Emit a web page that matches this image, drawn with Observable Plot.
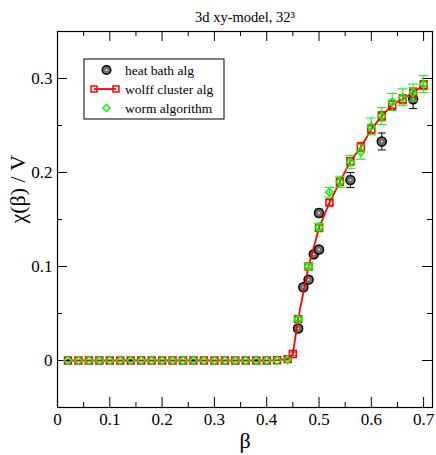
<!DOCTYPE html>
<html><head><meta charset="utf-8">
<script src="https://cdn.jsdelivr.net/npm/d3@7"></script>
<script src="https://cdn.jsdelivr.net/npm/@observablehq/plot@0.6"></script>
<style>body{margin:0;background:#fff} svg{display:block}</style>
</head><body><div id="chart"></div>
<script>
// ---- data ----
const titleText = "3d xy-model, 32\u00B3";
const xLabel = "\u03B2";
const yLabel = "\u03C7(\u03B2) / V";
const seriesNames = ["heat bath alg", "wolff cluster alg", "worm algorithm"];

const xTicks = [0, 0.1, 0.2, 0.3, 0.4, 0.5, 0.6, 0.7];
const xTickLabels = ["0", "0.1", "0.2", "0.3", "0.4", "0.5", "0.6", "0.7"];
const xMinorTicks = [0.05, 0.15, 0.25, 0.35, 0.45, 0.55, 0.65];
const yTicks = [0, 0.1, 0.2, 0.3];
const yTickLabels = ["0", "0.1", "0.2", "0.3"];
const yMinorTicks = [0.05, 0.15, 0.25];

// heat bath
const betaH = [0.46, 0.47, 0.48, 0.49, 0.50, 0.50, 0.56, 0.62, 0.68];
const chiH  = [0.034, 0.078, 0.086, 0.113, 0.118, 0.157, 0.192, 0.233, 0.278];
const errH  = [0.003, 0.003, 0.003, 0.003, 0.003, 0.004, 0.008, 0.009, 0.010];
// heat bath points hidden under the other symbols on the plateau (only their centre shows)
const betaH0 = [0.02, 0.14, 0.26, 0.38];
const chiH0  = [0, 0, 0, 0];

// wolff cluster
const betaW = [0.02, 0.04, 0.06, 0.08, 0.10, 0.12, 0.14, 0.16, 0.18, 0.20, 0.22, 0.24, 0.26, 0.28, 0.30,
  0.32, 0.34, 0.36, 0.38, 0.40, 0.42, 0.44, 0.45, 0.46, 0.48, 0.50, 0.52, 0.54, 0.56, 0.58, 0.60,
  0.62, 0.64, 0.66, 0.68, 0.70];
const chiW = [0, 0, 0, 0, 0, 0, 0, 0, 0, 0, 0, 0, 0, 0, 0,
  0, 0, 0, 0, 0, 0.0003, 0.0015, 0.007, 0.044, 0.100, 0.141, 0.168, 0.190, 0.212, 0.227, 0.246,
  0.260, 0.272, 0.278, 0.285, 0.293];
const errW = [0, 0, 0, 0, 0, 0, 0, 0, 0, 0, 0, 0, 0, 0, 0,
  0, 0, 0, 0, 0, 0, 0.001, 0.002, 0.002, 0.003, 0.003, 0.003, 0.004, 0.004, 0.005, 0.005,
  0.005, 0.005, 0.005, 0.005, 0.005];

// worm
const betaM = [0.02, 0.04, 0.06, 0.08, 0.10, 0.12, 0.14, 0.16, 0.18, 0.20, 0.22, 0.24, 0.26, 0.28, 0.30,
  0.32, 0.34, 0.36, 0.38, 0.40, 0.42, 0.44, 0.46, 0.48, 0.50, 0.52, 0.54, 0.56, 0.58, 0.60,
  0.62, 0.64, 0.66, 0.68, 0.70];
const chiM = [0, 0, 0, 0, 0, 0, 0, 0, 0, 0, 0, 0, 0, 0, 0,
  0, 0, 0, 0, 0, 0, 0.001, 0.044, 0.100, 0.142, 0.179, 0.190, 0.211, 0.222, 0.249,
  0.260, 0.275, 0.280, 0.285, 0.294];
const errM = [0, 0, 0, 0, 0, 0, 0, 0, 0, 0, 0, 0, 0, 0, 0,
  0, 0, 0, 0, 0, 0, 0, 0.002, 0.003, 0.004, 0.005, 0.006, 0.007, 0.008, 0.009,
  0.009, 0.009, 0.009, 0.009, 0.009];

const toRows = (bs, cs, es) => bs.map((b, i) => ({b, c: cs[i], e: es ? es[i] : 0}));
const heat = toRows(betaH, chiH, errH);
const heat0 = toRows(betaH0, chiH0);
const wolff = toRows(betaW, chiW, errW);
const worm = toRows(betaM, chiM, errM);

// ---- style ----
const W = 436, H = 455;
const mL = 57, mR = 4, mT = 31, mB = 48;
const innerW = W - mL - mR, innerH = H - mT - mB;
const font = "Liberation Serif, Times New Roman, serif";
const GREEN = "#00ff00", RED = "#ff0000";
const capSymbol = (hw) => ({draw(ctx) { ctx.moveTo(-hw, 0); ctx.lineTo(hw, 0); }});

const errMarks = (rows, color, hw) => {
  const r = rows.filter(d => d.e > 0);
  return [
    Plot.ruleX(r, {x: "b", y1: d => d.c - d.e, y2: d => d.c + d.e, stroke: color, strokeWidth: 1}),
    Plot.dot(r, {x: "b", y: d => d.c - d.e, symbol: capSymbol(hw), stroke: color, fill: "none", r: 3, strokeWidth: 1}),
    Plot.dot(r, {x: "b", y: d => d.c + d.e, symbol: capSymbol(hw), stroke: color, fill: "none", r: 3, strokeWidth: 1})
  ];
};

const chart = Plot.plot({
  width: W, height: H,
  marginLeft: mL, marginRight: mR, marginTop: mT, marginBottom: mB,
  style: {fontFamily: font, fontSize: "17px", background: "#fff", color: "#000"},
  x: {domain: [0, 0.717]},
  y: {domain: [-0.05, 0.35]},
  marks: [
    Plot.axisX({ticks: xTicks, tickFormat: (d, i) => xTickLabels[i], tickSize: 0, tickPadding: 5, label: null, fontSize: 17, fontFamily: font, fontVariant: "normal"}),
    Plot.axisY({ticks: yTicks, tickFormat: (d, i) => yTickLabels[i], tickSize: 0, tickPadding: 5, label: null, fontSize: 17, fontFamily: font, fontVariant: "normal"}),
    // inward ticks on all four sides
    Plot.tickX(xTicks, {x: d => d, insetTop: innerH - 10, stroke: "#000"}),
    Plot.tickX(xTicks, {x: d => d, insetBottom: innerH - 10, stroke: "#000"}),
    Plot.tickX(xMinorTicks, {x: d => d, insetTop: innerH - 5, stroke: "#000"}),
    Plot.tickX(xMinorTicks, {x: d => d, insetBottom: innerH - 5, stroke: "#000"}),
    Plot.tickY(yTicks, {y: d => d, insetRight: innerW - 10, stroke: "#000"}),
    Plot.tickY(yTicks, {y: d => d, insetLeft: innerW - 10, stroke: "#000"}),
    Plot.tickY(yMinorTicks, {y: d => d, insetRight: innerW - 5, stroke: "#000"}),
    Plot.tickY(yMinorTicks, {y: d => d, insetLeft: innerW - 5, stroke: "#000"}),
    Plot.frame({stroke: "#000", strokeWidth: 1.2}),
    // heat bath
    ...errMarks(heat, "#000", 4),
    Plot.dot(heat, {x: "b", y: "c", r: 4.5, fill: "#6e6e6e", stroke: "#000", strokeWidth: 1.5}),
    Plot.dot(heat, {x: "b", y: "c", r: 1, fill: "#e8e8e8"}),
    // wolff
    Plot.line(wolff, {x: "b", y: "c", stroke: RED, strokeWidth: 1.8}),
    ...errMarks(wolff, RED, 4),
    Plot.dot(wolff, {x: "b", y: "c", symbol: "square", r: 3.9, stroke: RED, fill: "none", strokeWidth: 1.5}),
    // worm
    ...errMarks(worm, GREEN, 5),
    Plot.dot(worm, {x: "b", y: "c", symbol: "diamond2", r: 3.5, stroke: GREEN, fill: "none", strokeWidth: 1.5}),
    Plot.dot(heat0, {x: "b", y: "c", r: 1.3, fill: "#000"}),
    // texts
    Plot.text([titleText], {text: d => d, frameAnchor: "top", lineAnchor: "bottom", dy: -10, fontSize: 14.5}),
    Plot.text([xLabel], {text: d => d, frameAnchor: "bottom", lineAnchor: "middle", dy: 33, fontSize: 22}),
    Plot.text([yLabel], {text: d => d, frameAnchor: "left", rotate: -90, dx: -40, dy: 4, fontSize: 22})
  ]
});
document.getElementById("chart").appendChild(chart);

// legend box
const svg = d3.select(chart);
const lg = svg.append("g").attr("font-family", font).attr("font-size", "13.5px").attr("text-anchor", "start");
const lx = 84, ly = 59, lw = 140, lh = 60, rowY = [70, 89, 108];
lg.append("rect").attr("x", lx).attr("y", ly).attr("width", lw).attr("height", lh)
  .attr("fill", "#fff").attr("stroke", "#000").attr("stroke-width", 1);
// heat bath
lg.append("circle").attr("cx", 106.5).attr("cy", rowY[0]).attr("r", 4.3)
  .attr("fill", "#6e6e6e").attr("stroke", "#000").attr("stroke-width", 1.5);
lg.append("circle").attr("cx", 106.5).attr("cy", rowY[0]).attr("r", 1).attr("fill", "#e8e8e8");
// wolff
lg.append("line").attr("x1", 94).attr("x2", 116).attr("y1", rowY[1]).attr("y2", rowY[1])
  .attr("stroke", RED).attr("stroke-width", 1.8);
[94, 116].forEach(cx => lg.append("rect").attr("x", cx - 3).attr("y", rowY[1] - 3).attr("width", 6).attr("height", 6)
  .attr("fill", "none").attr("stroke", RED).attr("stroke-width", 1.5));
// worm
lg.append("path").attr("d", d3.symbol(d3.symbolDiamond2, 32)()).attr("transform", `translate(106.5,${rowY[2]})`)
  .attr("fill", "none").attr("stroke", GREEN).attr("stroke-width", 1.5);
seriesNames.forEach((s, i) => lg.append("text").attr("x", 125).attr("y", rowY[i] + 4.5).text(s));
</script></body></html>
